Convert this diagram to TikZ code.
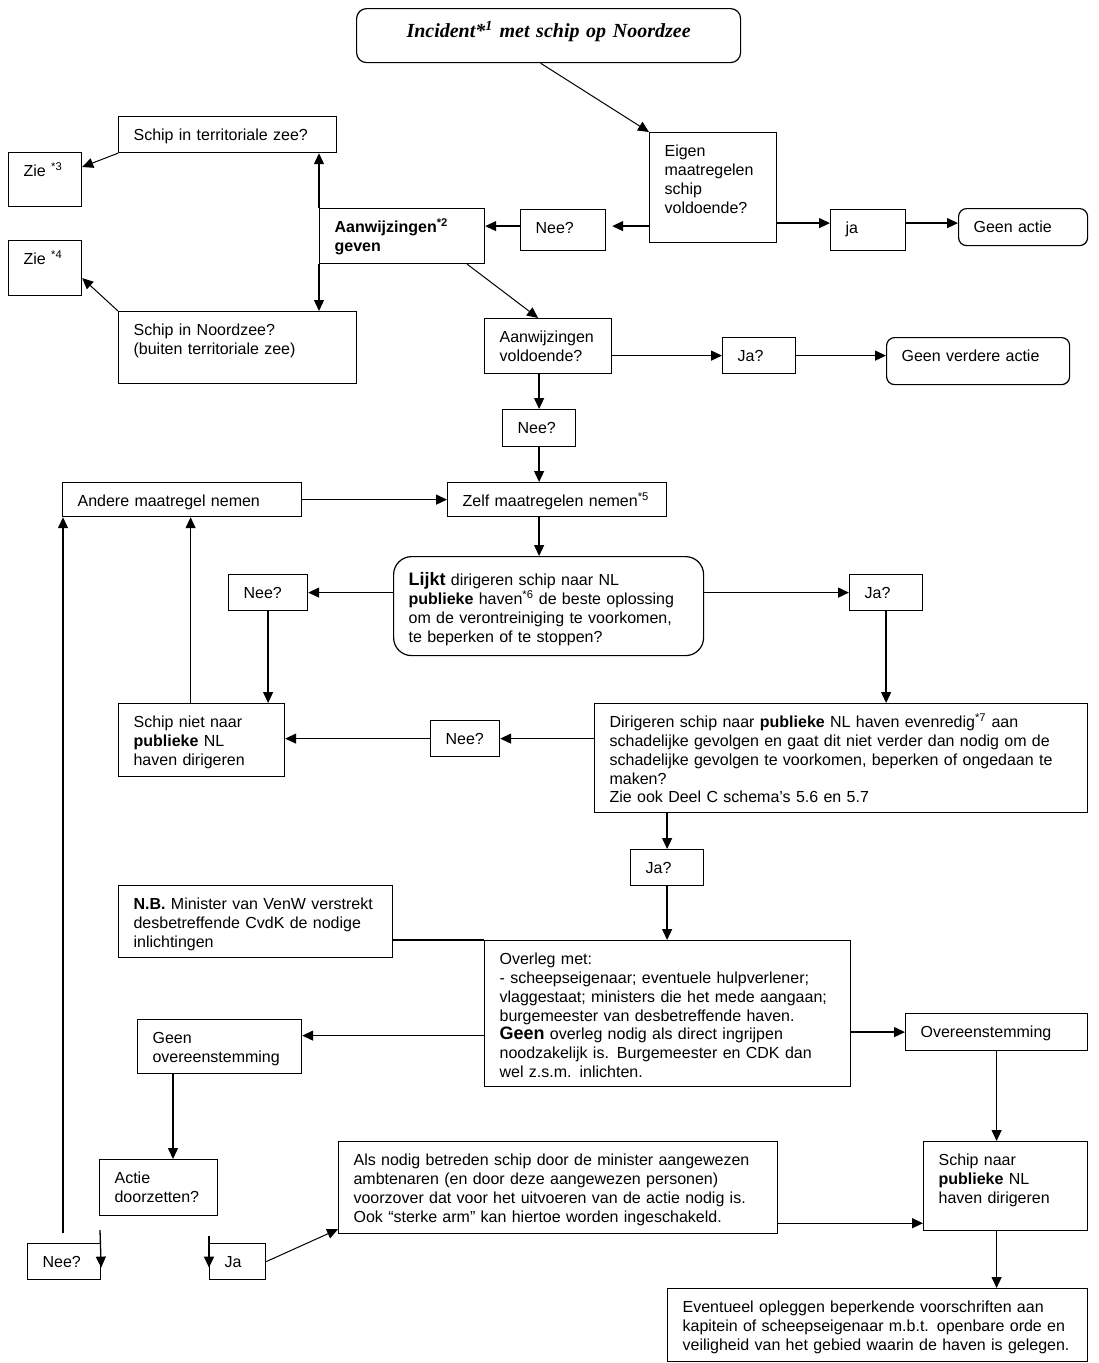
\documentclass[tikz,border=0pt]{standalone}
\usepackage{fontspec}
\setmainfont{Liberation Sans}
\newfontfamily\titelfont{Liberation Serif}
\usetikzlibrary{arrows.meta}

\begin{document}
\begin{tikzpicture}[x=1pt,y=-1pt,>={Triangle[length=11pt,width=10pt]},
  vak/.style={draw, line width=1.2pt, anchor=north west, align=left,
    inner xsep=15pt, inner ysep=0pt, text height=24pt,
    font=\fontsize{16}{18.8}\selectfont},
  rond/.style={vak, rounded corners=#1},
  pijl/.style={->, line width=1.3pt}]
  \useasboundingbox (0,0) rectangle (1099,1363);

  \node[rond=10pt, align=center, text width=354pt, text height=29pt, text depth=25pt,
    font=\titelfont\fontsize{20}{24}\selectfont\bfseries\itshape] (titel) at (356,8)
    {Incident*\textsuperscript{1} met schip op Noordzee};
  \node[vak, text width=97pt, text depth=86pt]  (eigen)    at (649,132) {Eigen\\maatregelen\\schip\\voldoende?};
  \node[vak, text width=55pt, text depth=17pt]  (nee1)     at (520,209) {Nee?};
  \node[vak, text width=135pt, text depth=31pt] (aanw)     at (319,208) {\textbf{Aanwijzingen\textsuperscript{*2}}\\\textbf{geven}};
  \node[vak, text width=45pt, text depth=17pt]  (ja1)      at (830,209) {ja};
  \node[rond=8pt, text width=99pt, text depth=13pt] (geenactie) at (958,208) {Geen actie};
  \node[vak, text width=188pt, text depth=12pt] (terr)     at (118,116) {Schip in territoriale zee?};
  \node[vak, text width=43pt, text depth=30pt]  (zie3)     at (8,152)   {Zie \textsuperscript{*3}};
  \node[vak, text width=43pt, text depth=31pt]  (zie4)     at (8,240)   {Zie \textsuperscript{*4}};
  \node[vak, text width=208pt, text depth=48pt] (noordzee) at (118,311) {Schip in Noordzee?\\(buiten territoriale zee)};
  \node[vak, text width=97pt, text depth=31pt]  (aanwvold) at (484,318) {Aanwijzingen\\voldoende?};
  \node[vak, text width=43pt, text depth=12pt]  (ja2)      at (722,337) {Ja?};
  \node[rond=8pt, text width=153pt, text depth=23pt] (geenverdere) at (886,337) {Geen verdere actie};
  \node[vak, text width=43pt, text depth=13pt]  (nee2)     at (502,409) {Nee?};
  \node[vak, text width=189pt, text depth=10pt] (zelf)     at (447,482) {Zelf maatregelen nemen\textsuperscript{*5}};
  \node[vak, text width=209pt, text depth=10pt] (andere)   at (62,482)  {Andere maatregel nemen};
  \node[rond=18pt, text width=280pt, text height=29pt, text depth=70pt] (lijkt) at (393,556)
    {{\fontsize{18}{18.8}\selectfont\bfseries Lijkt} dirigeren schip naar NL\\\textbf{publieke} haven\textsuperscript{*6} de beste oplossing\\om de verontreiniging te voorkomen,\\te beperken of te stoppen?};
  \node[vak, text width=49pt, text depth=12pt]  (nee3)     at (228,574) {Nee?};
  \node[vak, text width=43pt, text depth=12pt]  (ja3)      at (849,574) {Ja?};
  \node[vak, text width=136pt, text depth=49pt] (schipniet) at (118,703) {Schip niet naar\\\textbf{publieke} NL\\haven dirigeren};
  \node[vak, text width=39pt, text depth=12pt]  (nee4)     at (430,720) {Nee?};
  \node[vak, text width=463pt, text depth=85pt] (dirigeren) at (594,703)
    {Dirigeren schip naar \textbf{publieke} NL haven evenredig\textsuperscript{*7} aan\\schadelijke gevolgen en gaat dit niet verder dan nodig om de\\schadelijke gevolgen te voorkomen, beperken of ongedaan te\\maken?\\Zie ook Deel C schema’s 5.6 en 5.7};
  \node[vak, text width=43pt, text depth=12pt]  (ja4)      at (630,849) {Ja?};
  \node[vak, text width=244pt, text depth=48pt] (nb)       at (118,885)
    {\textbf{N.B.} Minister van VenW verstrekt\\desbetreffende CvdK de nodige\\inlichtingen};
  \node[vak, text width=336pt, text depth=122pt] (overleg) at (484,940)
    {Overleg met:\\- scheepseigenaar; eventuele hulpverlener;\\vlaggestaat; ministers die het mede aangaan;\\burgemeester van desbetreffende haven.\\{\fontsize{18}{18.8}\selectfont\bfseries Geen} overleg nodig als direct ingrijpen\\noodzakelijk is. Burgemeester en CDK dan\\wel z.s.m. inlichten.};
  \node[vak, text width=134pt, text depth=30pt] (geenovereen) at (137,1019) {Geen\\overeenstemming};
  \node[vak, text width=152pt, text depth=13pt] (overeen)  at (905,1013) {Overeenstemming};
  \node[vak, text width=88pt, text depth=32pt]  (actie)    at (99,1159) {Actie\\doorzetten?};
  \node[vak, text width=409pt, text depth=68pt] (als)      at (338,1141)
    {Als nodig betreden schip door de minister aangewezen\\ambtenaren (en door deze aangewezen personen)\\voorzover dat voor het uitvoeren van de actie nodig is.\\Ook “sterke arm” kan hiertoe worden ingeschakeld.};
  \node[vak, text width=134pt, text depth=65pt] (schipnaar) at (923,1141) {Schip naar\\\textbf{publieke} NL\\haven dirigeren};
  \node[vak, text width=43pt, text depth=12pt]  (nee5)     at (27,1243) {Nee?};
  \node[vak, text width=26pt, text depth=12pt]  (ja5)      at (209,1243) {Ja};
  \node[vak, text width=390pt, text depth=49pt] (eventueel) at (667,1288)
    {Eventueel opleggen beperkende voorschriften aan\\kapitein of scheepseigenaar m.b.t. openbare orde en\\veiligheid van het gebied waarin de haven is gelegen.};

  \coordinate (terug)    at (63,1233);
  \coordinate (neestart) at (100,1230);
  \coordinate (jastart)  at (209,1236);

  \draw[pijl, line width=1pt] ([xshift=-8pt]titel.south) -- (eigen.north west);
  \draw[pijl, shorten >=6pt] ([yshift=4pt]nee1.east -| eigen.west) -- ([yshift=4pt]nee1.east);
  \draw[pijl] ([yshift=4pt]nee1.west) -- ([yshift=4pt]nee1.west -| aanw.east);
  \draw[pijl] ([yshift=7pt]ja1.west -| eigen.east) -- ([yshift=7pt]ja1.west);
  \draw[pijl] ([yshift=7pt]ja1.east) -- ([yshift=7pt]ja1.east -| geenactie.west);
  \draw[pijl] (aanw.north west) -- (aanw.north west |- terr.south);
  \draw[pijl] (aanw.south west) -- (aanw.south west |- noordzee.north);
  \draw[pijl, line width=1pt] (terr.south west) -- ([yshift=-15pt]zie3.north east);
  \draw[pijl, line width=1pt] (noordzee.north west) -- ([yshift=-10pt]zie4.east);
  \draw[pijl, line width=1pt] ([xshift=-18pt]aanw.south east) -- ([xshift=-10pt]aanwvold.north);
  \draw[pijl] (ja2.west -| aanwvold.east) -- (ja2.west);
  \draw[pijl] (ja2.east) -- (ja2.east -| geenverdere.west);
  \draw[pijl] (nee2.north |- aanwvold.south) -- (nee2.north);
  \draw[pijl] (nee2.south) -- (nee2.south |- zelf.north);
  \draw[pijl] (andere.east) -- (zelf.west);
  \draw[pijl] (zelf.south -| nee2) -- (lijkt.north -| nee2);
  \draw[pijl] (nee3.east -| lijkt.west) -- (nee3.east);
  \draw[pijl] (ja3.west -| lijkt.east) -- (ja3.west);
  \draw[pijl] (nee3.south) -- (nee3.south |- schipniet.north);
  \draw[pijl] (ja3.south) -- (ja3.south |- dirigeren.north);
  \draw[pijl] ([xshift=-11pt]schipniet.north) -- ([xshift=-11pt]schipniet.north |- andere.south);
  \draw[pijl] (nee4.east -| dirigeren.west) -- (nee4.east);
  \draw[pijl] (nee4.west) -- (nee4.west -| schipniet.east);
  \draw[pijl] (ja4.north |- dirigeren.south) -- (ja4.north);
  \draw[pijl] (ja4.south) -- (ja4.south |- overleg.north);
  \draw[line width=1.3pt] (overleg.north west -| nb.east) -- (overleg.north west);
  \draw[pijl] ([yshift=-22pt]overleg.west) -- ([yshift=11pt]geenovereen.east);
  \draw[pijl] (overeen.west -| overleg.east) -- (overeen.west);
  \draw[pijl] (overeen.south) -- (overeen.south |- schipnaar.north);
  \draw[pijl] (schipnaar.south -| overeen) -- (eventueel.north -| overeen);
  \draw[pijl] ([xshift=36pt]geenovereen.south west) -- ([xshift=36pt]geenovereen.south west |- actie.north);
  \draw[pijl] (terug) -- (terug |- andere.south);
  \draw[pijl] (neestart) -- ([yshift=-6pt]nee5.east);
  \draw[pijl] (jastart) -- ([yshift=-6pt]ja5.west);
  \draw[pijl, line width=1pt] (ja5.east) -- ([yshift=5pt]als.south west);
  \draw[pijl] ([yshift=11pt]als.south east) -- ([yshift=11pt]als.south east -| schipnaar.west);
\end{tikzpicture}
\end{document}
